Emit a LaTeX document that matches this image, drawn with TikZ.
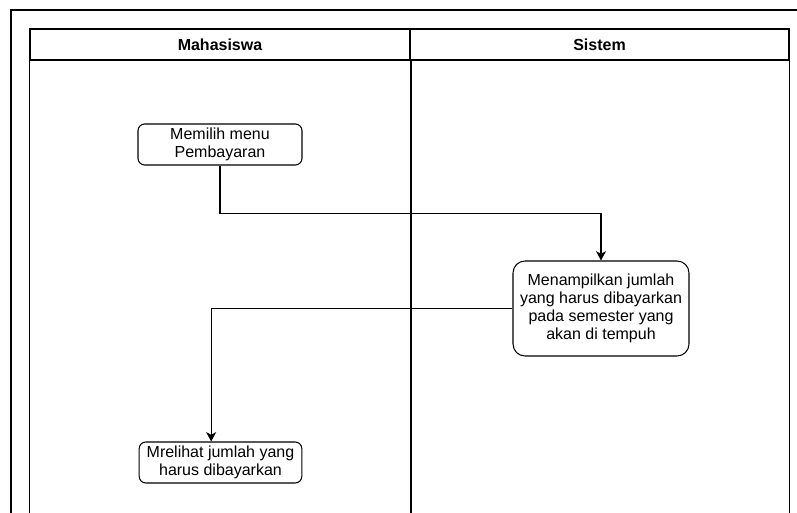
\documentclass[tikz,border=0pt]{standalone}
\usepackage{fontspec}
\setmainfont{Liberation Sans}
\usepackage{tikz}
\usetikzlibrary{arrows.meta, positioning}

\begin{document}
\begin{tikzpicture}[x=0.75pt, y=-0.75pt, >={Stealth[length=7pt, width=7.5pt, inset=2pt]},
        every node/.style={font=\fontsize{12}{13.5}\selectfont},
        lanehead/.style={rectangle, draw, line width=1pt, inner sep=0pt, font=\fontsize{12}{13.5}\selectfont\bfseries, minimum height=23.25pt},
        act/.style={rectangle, draw, line width=0.8pt, rounded corners=5pt, align=center, inner sep=1pt, minimum width=123pt, minimum height=30.75pt},
        actbig/.style={act, rounded corners=9pt, minimum width=132pt, minimum height=71.25pt},
        flow/.style={->, line width=0.8pt}]

    \useasboundingbox (0,0) rectangle (797,513);
    \clip (0,0) rectangle (797,513);

    % frame and lanes
    \draw[line width=0.8pt] (11,540) -- (11,10) -- (820,10);
    \node (hdr1) [lanehead, minimum width=285pt] at (220,44.5) {Mahasiswa};
    \node (hdr2) [lanehead, minimum width=284.25pt] at (599.5,44.5) {Sistem};
    \draw[line width=1pt] (hdr1.south west) -- ++(0,500);
    \draw[line width=1.4pt] (hdr1.south east) -- ++(0,500);
    \draw[line width=1pt] (hdr2.south east) -- ++(0,500);

    % activities
    \node (n1) [act] at (220,144.5) {Memilih menu\\Pembayaran};
    \node (n2) [actbig] at (601,308.5) {Menampilkan jumlah\\yang harus dibayarkan\\pada semester yang\\akan di tempuh};
    \node (n3) [act, minimum width=122pt] at (220.5,462.5) {Mrelihat jumlah yang\\harus dibayarkan};

    \draw[flow] (n1.south) -- ++(0,48) -| (n2.north);
    \draw[flow] (n2.west) -| ([xshift=-7pt]n3.north);
\end{tikzpicture}
\end{document}
